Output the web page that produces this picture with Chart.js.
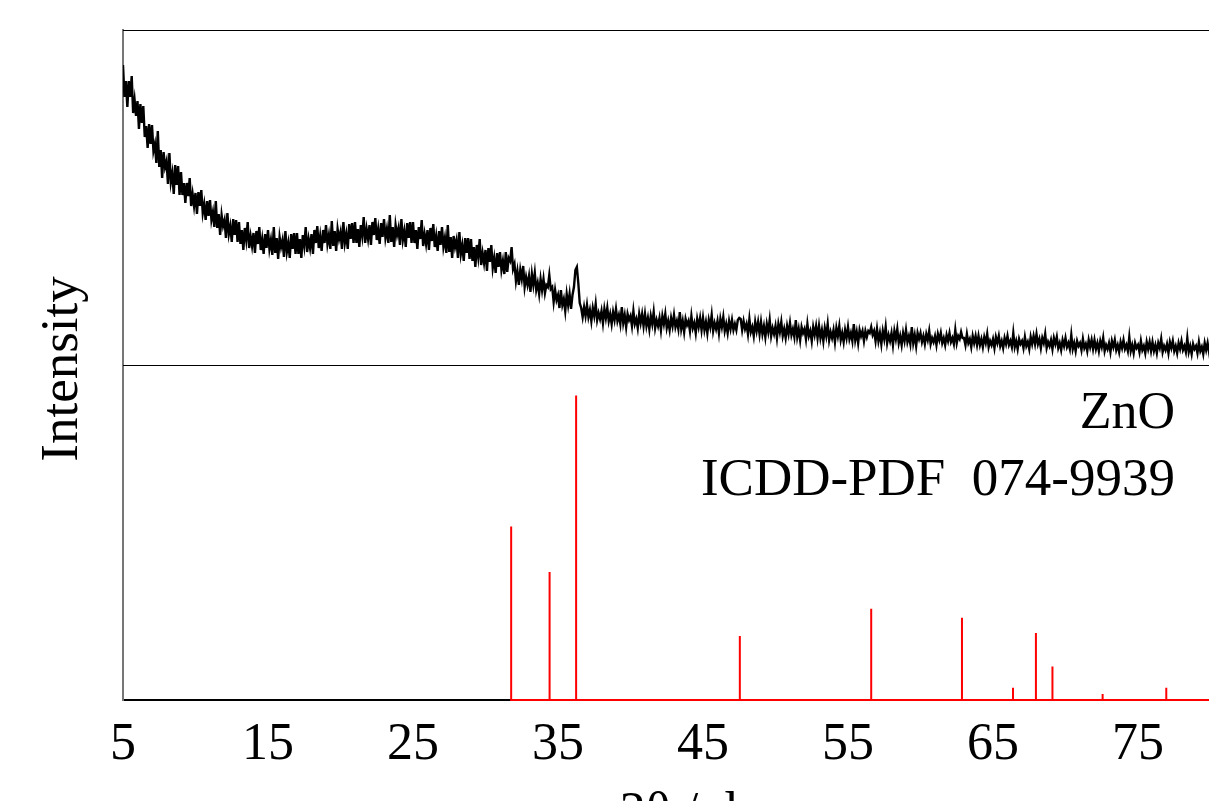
<!DOCTYPE html>
<html>
<head>
<meta charset="utf-8">
<script src="https://cdn.jsdelivr.net/npm/chart.js@4"></script>
<style>
  html, body { margin: 0; padding: 0; overflow: hidden; background: #fff; }
  canvas { display: block; }
</style>
</head>
<body>
<canvas id="xrd" width="1283" height="846"></canvas>
<script>
// measured pattern, 2theta from 5 deg in 0.1 deg steps (one row = 1 deg)
var thetaStart = 5;
var thetaStep = 0.1;
var sampleCounts = [
  300, 268, 284, 258, 284, 268, 289, 252, 265, 249,
  264, 236, 261, 242, 259, 228, 239, 217, 241, 221,
  240, 214, 221, 202, 234, 198, 215, 187, 213, 198,
  204, 181, 212, 183, 192, 171, 200, 180, 199, 170,
  193, 170, 182, 162, 182, 169, 187, 159, 171, 159,
  172, 151, 173, 159, 175, 152, 161, 145, 164, 149,
  165, 145, 153, 138, 164, 137, 151, 130, 150, 139,
  145, 127, 152, 131, 139, 123, 146, 130, 145, 123,
  143, 121, 135, 115, 137, 125, 143, 117, 129, 119,
  132, 112, 134, 121, 138, 115, 126, 111, 131, 117,
  135, 116, 125, 110, 138, 112, 127, 106, 128, 118,
  125, 108, 134, 113, 122, 107, 131, 116, 132, 111,
  132, 111, 126, 107, 130, 119, 138, 113, 126, 117,
  131, 111, 135, 122, 139, 117, 129, 114, 135, 122,
  140, 121, 130, 116, 144, 119, 134, 114, 136, 126,
  133, 116, 143, 122, 131, 116, 141, 126, 142, 122,
  143, 122, 136, 118, 140, 129, 148, 122, 136, 126,
  140, 120, 143, 130, 147, 125, 136, 121, 142, 128,
  146, 127, 136, 122, 150, 123, 138, 118, 140, 130,
  137, 120, 146, 125, 134, 118, 142, 127, 143, 122,
  143, 122, 135, 116, 138, 126, 145, 119, 131, 121,
  135, 115, 137, 124, 141, 118, 129, 114, 134, 120,
  138, 118, 127, 112, 140, 113, 128, 107, 129, 118,
  125, 107, 133, 111, 120, 104, 127, 112, 127, 106,
  126, 104, 118, 98, 120, 108, 126, 100, 112, 102,
  115, 94, 117, 103, 120, 97, 107, 92, 112, 98,
  113, 95, 104, 91, 113, 93, 107, 104, 118, 96,
  101, 84, 94, 80, 95, 86, 99, 78, 88, 80,
  89, 73, 91, 80, 92, 75, 82, 71, 86, 75,
  86, 72, 80, 78, 90, 76, 78, 63, 75, 65,
  70, 57, 75, 60, 66, 54, 71, 60, 71, 56,
  70, 78, 95, 98, 82, 62, 57, 48, 58, 49,
  60, 48, 55, 44, 57, 49, 61, 45, 52, 46,
  54, 42, 56, 47, 57, 44, 51, 41, 53, 45,
  56, 44, 50, 41, 58, 42, 50, 38, 51, 45,
  49, 39, 54, 41, 46, 37, 51, 42, 51, 39,
  51, 39, 47, 36, 49, 41, 53, 37, 45, 39,
  47, 35, 49, 41, 51, 37, 44, 35, 47, 39,
  50, 38, 44, 36, 53, 36, 44, 33, 46, 40,
  44, 34, 49, 37, 42, 32, 46, 38, 47, 35,
  47, 35, 43, 32, 45, 38, 50, 34, 42, 36,
  44, 32, 46, 38, 48, 34, 41, 32, 44, 36,
  45, 35, 41, 35, 45, 47, 46, 35, 44, 36,
  41, 31, 46, 33, 38, 29, 43, 34, 43, 31,
  43, 31, 39, 28, 41, 33, 45, 29, 37, 31,
  39, 27, 41, 33, 43, 29, 36, 27, 39, 31,
  42, 30, 36, 28, 45, 28, 36, 25, 38, 32,
  36, 26, 41, 29, 34, 24, 38, 30, 39, 27,
  39, 27, 35, 24, 37, 29, 41, 25, 33, 27,
  35, 23, 37, 29, 39, 25, 32, 23, 35, 27,
  38, 26, 32, 24, 41, 25, 33, 22, 35, 29,
  34, 24, 34, 28, 34, 32, 38, 30, 34, 24,
  36, 24, 32, 21, 34, 26, 38, 22, 30, 24,
  32, 20, 34, 26, 36, 22, 29, 20, 32, 24,
  35, 23, 29, 21, 38, 22, 30, 19, 32, 26,
  32, 23, 29, 21, 31, 25, 34, 21, 27, 23,
  29, 20, 31, 25, 32, 22, 27, 20, 30, 24,
  32, 23, 27, 21, 35, 22, 29, 26, 33, 27,
  27, 20, 31, 22, 26, 18, 29, 22, 29, 20,
  29, 20, 26, 18, 28, 22, 31, 18, 24, 20,
  26, 17, 28, 22, 29, 19, 24, 17, 27, 21,
  29, 20, 24, 18, 32, 18, 24, 16, 26, 21,
  24, 17, 28, 19, 23, 16, 28, 21, 29, 21,
  31, 21, 26, 17, 27, 22, 31, 17, 23, 19,
  25, 16, 27, 21, 28, 17, 22, 15, 25, 19,
  27, 18, 22, 16, 30, 16, 22, 14, 24, 19,
  22, 15, 26, 17, 21, 14, 25, 18, 25, 16,
  25, 16, 22, 14, 24, 18, 27, 14, 20, 16,
  22, 13, 24, 18, 25, 15, 20, 13, 23, 17,
  25, 16, 20, 14, 28, 14, 20, 12, 22, 17,
  20, 13, 24, 15, 19, 12, 23, 16, 23, 14,
  23, 14, 20, 12, 22, 17, 26, 13, 19, 15,
  21, 12, 23, 17, 24, 14, 19, 12, 22, 16,
  24, 15, 19, 13, 27, 13, 19, 11, 21, 16,
  19, 12, 23, 14, 18, 11, 22, 15, 22, 13,
  22, 13, 20
];

// ZnO reference card
var refPeaks = [31.77, 34.42, 36.25, 47.54, 56.60, 62.86, 66.38, 67.96, 69.10, 72.56, 76.95];
var refIntensity = [57, 42, 100, 21, 30, 27, 4, 22, 11, 2, 4];
var refName = 'ZnO';
var refCard = 'ICDD-PDF  074-9939';

var tickLabels = [5, 15, 25, 35, 45, 55, 65, 75];
var xMin = 5;
var xMax = 85;

var serif = 'Liberation Serif, Times New Roman, serif';

var samplePoints = sampleCounts.map(function (v, i) {
  return { x: +(thetaStart + i * thetaStep).toFixed(1), y: v };
});

var stickPoints = [];
refPeaks.forEach(function (p, i) {
  stickPoints.push({ x: p, y: 0 });
  stickPoints.push({ x: p, y: refIntensity[i] });
  stickPoints.push({ x: p, y: 0 });
});
stickPoints.push({ x: xMax, y: 0 });

// frame lines + free text
var framePlugin = {
  id: 'frame',
  afterDatasetsDraw: function (chart) {
    var ctx = chart.ctx;
    var a = chart.chartArea;
    var mid = chart.scales.yBot.top;
    ctx.save();
    ctx.strokeStyle = '#000';
    ctx.lineWidth = 1;
    ctx.beginPath();
    ctx.moveTo(a.left, a.top + 0.5);
    ctx.lineTo(a.right, a.top + 0.5);
    ctx.moveTo(a.left, mid + 0.5);
    ctx.lineTo(a.right, mid + 0.5);
    ctx.stroke();

    ctx.fillStyle = '#000';
    ctx.textAlign = 'right';
    ctx.textBaseline = 'alphabetic';
    ctx.font = '52px ' + serif;
    ctx.fillText(refName, a.right - 108, mid + 63);
    ctx.font = '53px ' + serif;
    ctx.fillText(refCard, a.right - 108, mid + 130);

    ctx.translate(63, (a.top + a.bottom) / 2 + 4);
    ctx.rotate(-Math.PI / 2);
    ctx.textAlign = 'center';
    ctx.textBaseline = 'middle';
    ctx.fillText('Intensity', 0, 0);
    ctx.restore();
  }
};

new Chart(document.getElementById('xrd'), {
  type: 'line',
  data: {
    datasets: [
      {
        data: samplePoints,
        yAxisID: 'yTop',
        borderColor: '#000',
        borderWidth: 2.4,
        pointRadius: 0,
        tension: 0
      },
      {
        data: stickPoints,
        yAxisID: 'yBot',
        borderColor: '#ff0000',
        borderWidth: 2,
        pointRadius: 0,
        tension: 0,
        clip: false
      }
    ]
  },
  options: {
    responsive: false,
    animation: false,
    layout: { padding: { left: 123, top: 30, right: 0, bottom: 0 } },
    plugins: { legend: { display: false }, tooltip: { enabled: false } },
    scales: {
      x: {
        type: 'linear',
        min: xMin,
        max: xMax,
        afterBuildTicks: function (s) {
          s.ticks = tickLabels.map(function (v) { return { value: v }; });
        },
        afterFit: function (s) { s.height = 146; },
        grid: { display: false, drawTicks: false },
        border: { display: true, color: '#000', width: 2 },
        ticks: {
          color: '#000',
          font: { family: serif, size: 52 },
          padding: 14,
          maxRotation: 0,
          autoSkip: false
        },
        title: {
          display: true,
          text: '2θ / deg',
          color: '#000',
          font: { family: serif, size: 52 },
          padding: { top: 0, bottom: 0 }
        }
      },
      yBot: {
        type: 'linear',
        position: 'left',
        stack: 'xrd',
        stackWeight: 1,
        min: 0,
        max: 110,
        grid: { display: false },
        ticks: { display: false },
        border: { display: true, color: '#777', width: 2 },
        afterFit: function (s) { s.width = 0; }
      },
      yTop: {
        type: 'linear',
        position: 'left',
        stack: 'xrd',
        stackWeight: 1,
        min: 0,
        max: 335,
        grid: { display: false },
        ticks: { display: false },
        border: { display: true, color: '#777', width: 2 },
        afterFit: function (s) { s.width = 0; }
      }
    }
  },
  plugins: [framePlugin]
});
</script>
</body>
</html>
